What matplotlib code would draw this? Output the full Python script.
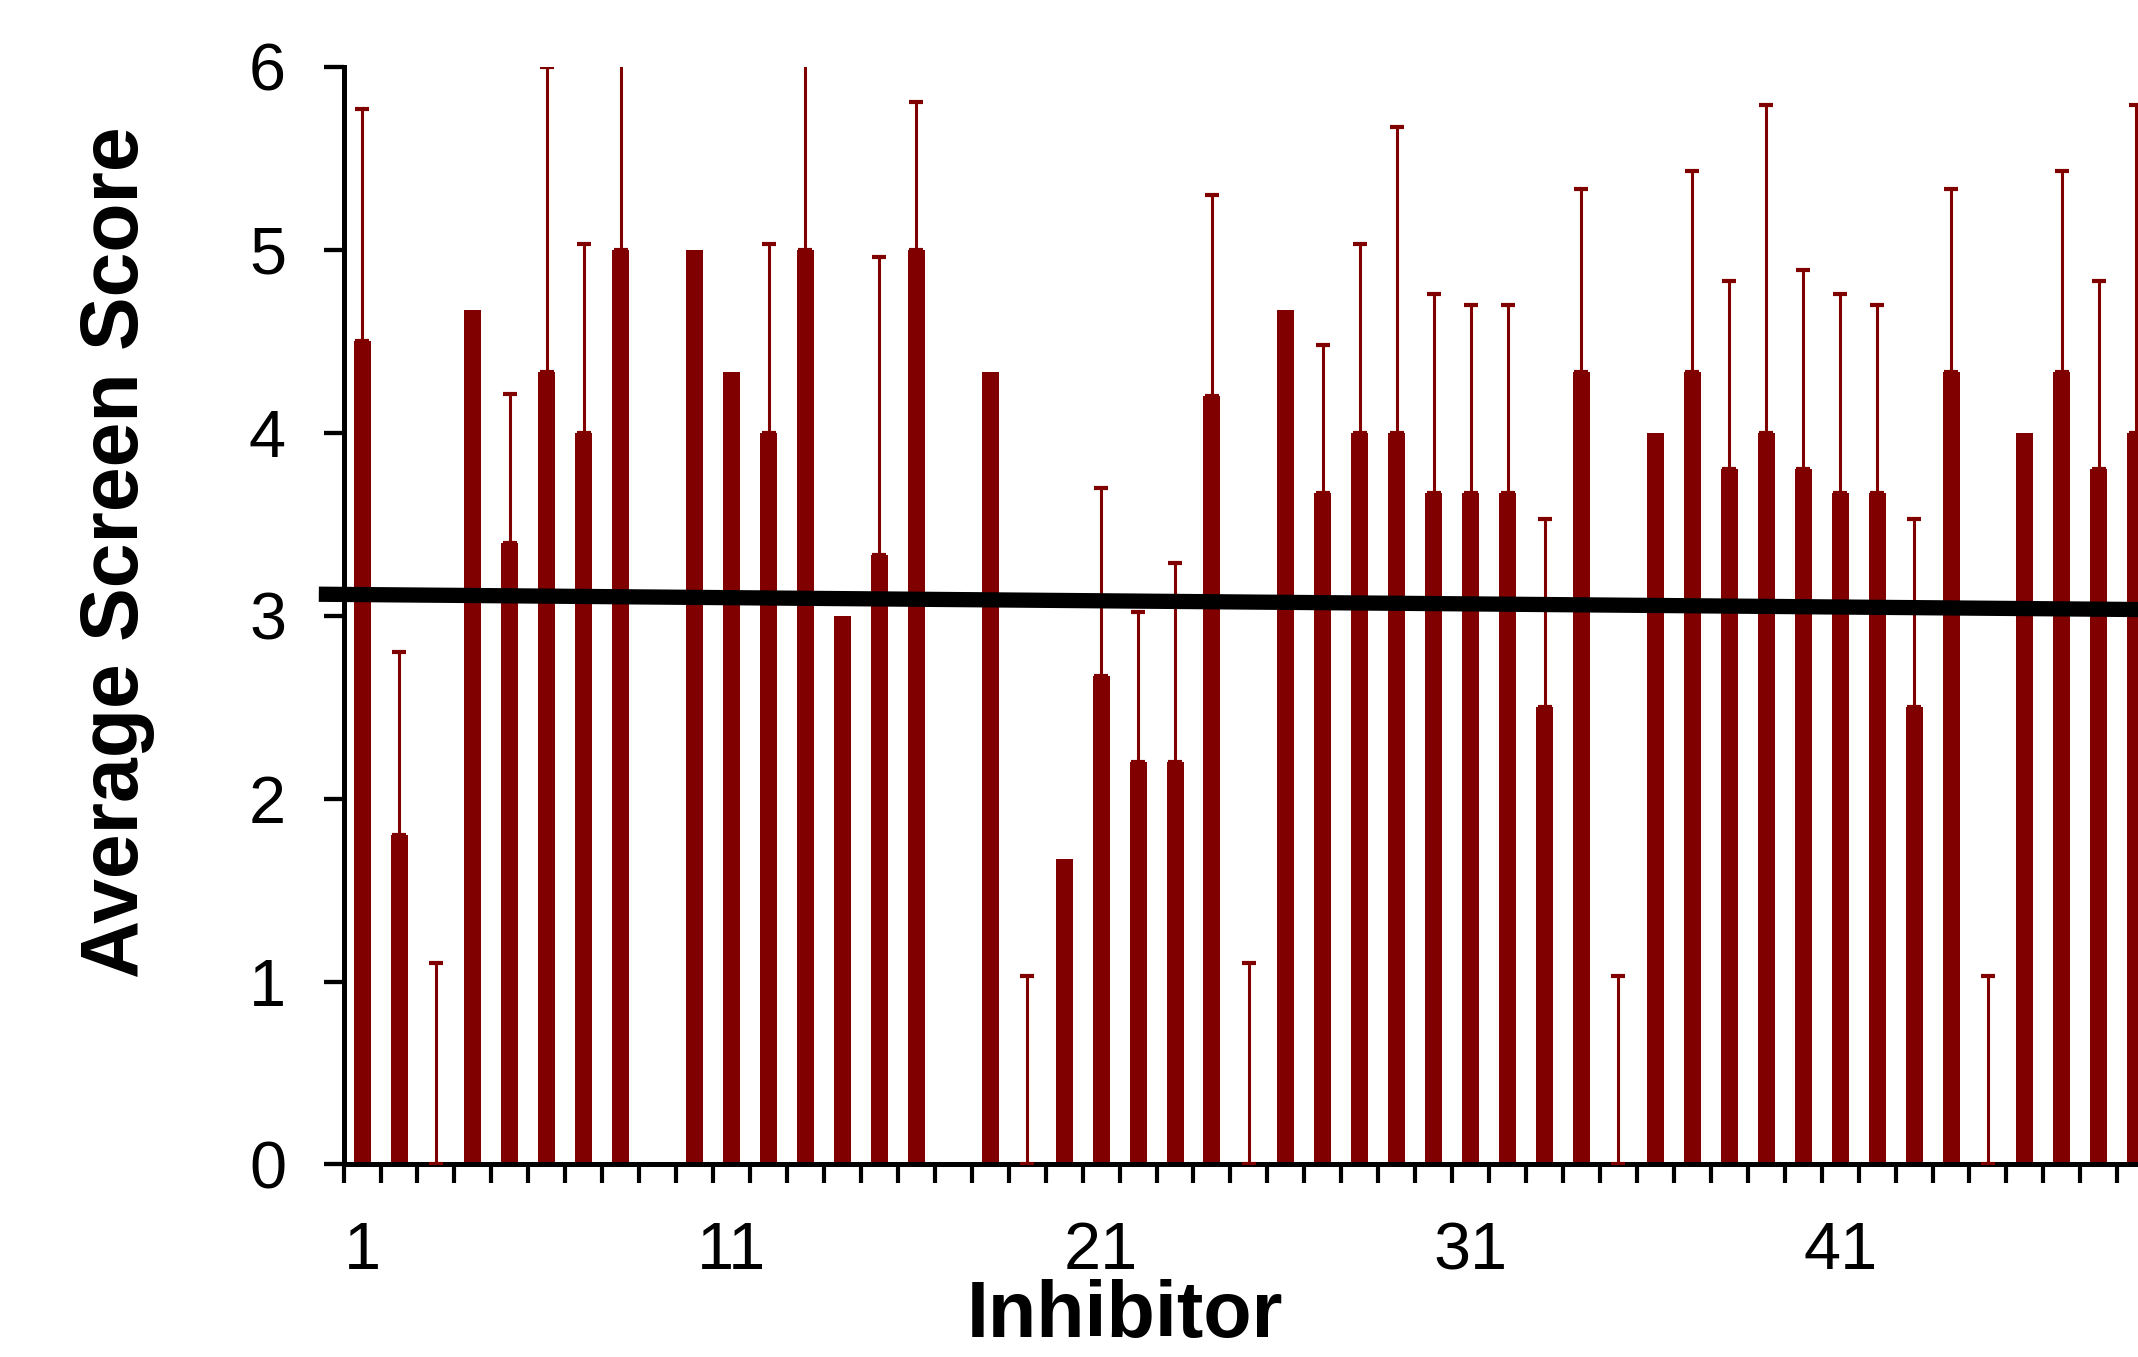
import numpy as np
import matplotlib
matplotlib.use('Agg')
import matplotlib.pyplot as plt
from matplotlib import ticker

# inhibitor number, mean screen score, upper error (SD)
inhibitor = list(range(1, 50))
score = [4.5, 1.8, 0, 4.67, 3.4, 4.33, 4.0, 5.0, 0, 5.0,
         4.33, 4.0, 5.0, 3.0, 3.33, 5.0, 0, 4.33, 0, 1.67,
         2.67, 2.2, 2.2, 4.2, 0, 4.67, 3.67, 4.0, 4.0, 3.67,
         3.67, 3.67, 2.5, 4.33, 0, 4.0, 4.33, 3.8, 4.0, 3.8,
         3.67, 3.67, 2.5, 4.33, 0, 4.0, 4.33, 3.8, 4.0]
score_sd = [1.27, 1.0, 1.1, 0, 0.81, 1.67, 1.03, 1.3, 0, 0,
            0, 1.03, 1.3, 0, 1.63, 0.81, 0, 0, 1.03, 0,
            1.03, 0.82, 1.09, 1.1, 1.1, 0, 0.81, 1.03, 1.67, 1.09,
            1.03, 1.03, 1.03, 1.0, 1.03, 0, 1.1, 1.03, 1.79, 1.09,
            1.09, 1.03, 1.03, 1.0, 1.03, 0, 1.1, 1.03, 1.79]
label_ticks = [1, 11, 21, 31, 41]
# linear trend
trend_intercept = 3.117
trend_slope = -0.0017

bar_color = '#800000'
plt.rcParams['font.family'] = ['Liberation Sans', 'DejaVu Sans']

fig = plt.figure(figsize=(21.38, 13.57), dpi=100)
ax = fig.add_axes([0.1607, 0.1419, 0.8393, 0.8088])

x = np.array(inhibitor)
y = np.array(score)
sd = np.array(score_sd)

ax.bar(x, y, width=0.46, color=bar_color, zorder=2)
has_err = sd > 0
ax.errorbar(x[has_err], y[has_err], yerr=[np.zeros(has_err.sum()), sd[has_err]],
            fmt='none', ecolor=bar_color, elinewidth=2.2, capsize=5,
            capthick=3, zorder=3)

tx = np.array([-0.17, 50])
ax.plot(tx, trend_intercept + trend_slope * tx, color='black', lw=11,
        solid_capstyle='butt', clip_on=False, zorder=4)

ax.set_xlim(0.5, 49.06)
ax.set_ylim(0, 6)
ax.spines['top'].set_visible(False)
ax.spines['right'].set_visible(False)
ax.spines['left'].set_linewidth(3.6)
ax.spines['bottom'].set_linewidth(3.6)

ax.set_yticks(range(0, 7))
ax.tick_params(axis='y', direction='out', length=14.4, width=3.1,
               labelsize=48, pad=27)
ax.xaxis.set_major_locator(ticker.FixedLocator(np.arange(0.5, 50, 1)))
ax.xaxis.set_major_formatter(ticker.NullFormatter())
ax.set_xticks(label_ticks, [str(v) for v in label_ticks], minor=True)
ax.tick_params(axis='x', which='major', direction='out', length=13.4, width=3)
ax.tick_params(axis='x', which='minor', length=0, labelsize=48, pad=41)

fig.text(1125 / 2138, 0.002, 'Inhibitor', fontsize=57, fontweight='bold',
         ha='center', va='bottom')
fig.text(138 / 2138, 1 - 552 / 1357, 'Average Screen Score', fontsize=58,
         fontweight='bold', rotation=90, rotation_mode='anchor',
         ha='center', va='baseline')

fig.savefig('out.png', dpi=100)
